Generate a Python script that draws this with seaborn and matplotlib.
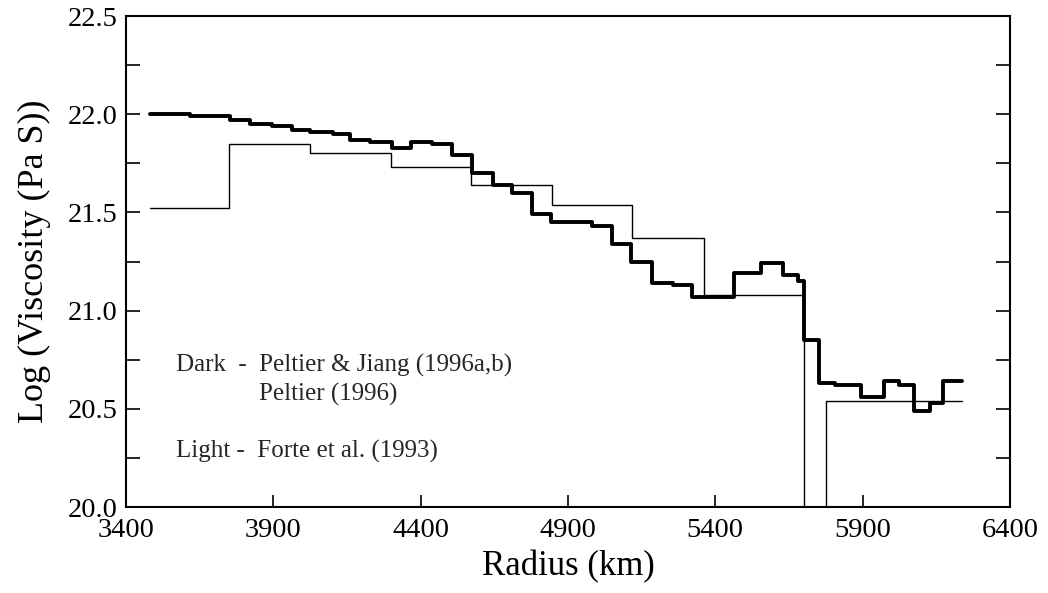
import numpy as np
import pandas as pd
import seaborn as sns
import matplotlib
matplotlib.use("Agg")
import matplotlib.pyplot as plt

# ---- data ----
dark_edges = [3480, 3617, 3753, 3821, 3895, 3962, 4025, 4104, 4160, 4228, 4302,
              4366, 4438, 4508, 4573, 4645, 4711, 4779, 4842, 4983, 5049, 5114,
              5184, 5258, 5320, 5465, 5555, 5629, 5682, 5702, 5753, 5807, 5895,
              5971, 6025, 6076, 6129, 6174, 6237]
dark_values = [22.00, 21.99, 21.97, 21.95, 21.94, 21.92, 21.91, 21.90, 21.87, 21.86,
               21.83, 21.86, 21.85, 21.79, 21.70, 21.64, 21.60, 21.49, 21.45, 21.43,
               21.34, 21.25, 21.14, 21.13, 21.07, 21.19, 21.24, 21.18, 21.15, 20.85,
               20.63, 20.62, 20.56, 20.64, 20.62, 20.49, 20.53, 20.64]

light_edges = [3480, 3751, 4025, 4300, 4571, 4845, 5119, 5360, 5702, 5776, 6237]
light_values = [21.52, 21.85, 21.80, 21.73, 21.64, 21.54, 21.37, 21.08, 19.5, 20.54]

x_ticks = [3400, 3900, 4400, 4900, 5400, 5900, 6400]
y_ticks = [20.0, 20.25, 20.5, 20.75, 21.0, 21.25, 21.5, 21.75, 22.0, 22.25, 22.5]
y_tick_labels = ["20.0", "", "20.5", "", "21.0", "", "21.5", "", "22.0", "", "22.5"]

x_label = "Radius (km)"
y_label = "Log (Viscosity (Pa S))"
note_dark_1 = "Dark  -  Peltier & Jiang (1996a,b)"
note_dark_2 = "Peltier (1996)"
note_light = "Light -  Forte et al. (1993)"

# ---- build step tables ----
dark_df = pd.DataFrame({"radius": dark_edges,
                        "visc": dark_values + [dark_values[-1]]})
light_df = pd.DataFrame({"radius": light_edges,
                         "visc": light_values + [light_values[-1]]})

sns.set_theme(style="ticks")
plt.rcParams["font.family"] = ["Liberation Serif", "DejaVu Serif"]

fig = plt.figure(figsize=(10.48, 5.93), dpi=100)
ax = fig.add_axes([0.1202, 0.145, 0.8435, 0.828])

sns.lineplot(data=light_df, x="radius", y="visc", ax=ax, estimator=None,
             sort=False, drawstyle="steps-post", color="black", linewidth=1.0)
sns.lineplot(data=dark_df, x="radius", y="visc", ax=ax, estimator=None,
             sort=False, drawstyle="steps-post", color="black", linewidth=2.8)

ax.set_xlim(3400, 6400)
ax.set_ylim(20.0, 22.5)
ax.set_xticks(x_ticks)
ax.set_xticklabels([str(t) for t in x_ticks])
ax.set_yticks(y_ticks)
ax.set_yticklabels(y_tick_labels)

ax.tick_params(axis="x", direction="in", length=9, width=1.2, labelsize=20.5,
               pad=8, top=False, colors="black")
ax.tick_params(axis="y", direction="in", length=10, width=1.2, labelsize=20.5,
               pad=6, right=True, colors="black")
for tk in ax.xaxis.get_major_ticks():
    if tk.get_loc() in (3400, 6400):
        tk.tick1line.set_visible(False)
for tk in ax.yaxis.get_major_ticks():
    if tk.get_loc() in (20.0, 22.5):
        tk.tick1line.set_visible(False)
        tk.tick2line.set_visible(False)

for sp in ax.spines.values():
    sp.set_visible(True)
    sp.set_linewidth(1.5)
    sp.set_color("black")

ax.set_xlabel(x_label, fontsize=25, labelpad=5, color="black")
ax.set_ylabel(y_label, fontsize=26, labelpad=12, color="black")

ax.text(3570, 20.69, note_dark_1, fontsize=18, va="baseline", ha="left")
ax.text(3851, 20.54, note_dark_2, fontsize=18, va="baseline", ha="left")
ax.text(3570, 20.25, note_light, fontsize=18, va="baseline", ha="left")

ax.grid(False)
fig.savefig("out.png", dpi=100, facecolor="white")
